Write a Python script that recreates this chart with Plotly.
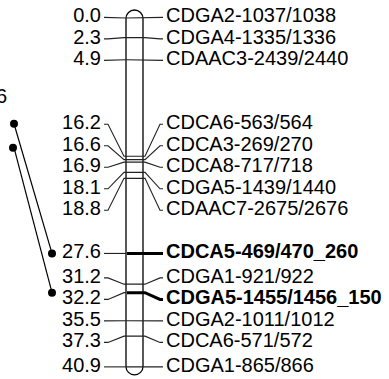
import plotly.graph_objects as go

# ---- data ----
positions = [0.0, 2.3, 4.9, 16.2, 16.6, 16.9, 18.1, 18.8, 27.6, 31.2, 32.2, 35.5, 37.3, 40.9]
markers = ["CDGA2-1037/1038", "CDGA4-1335/1336", "CDAAC3-2439/2440",
           "CDCA6-563/564", "CDCA3-269/270", "CDCA8-717/718", "CDGA5-1439/1440",
           "CDAAC7-2675/2676", "CDCA5-469/470_260", "CDGA1-921/922",
           "CDGA5-1455/1456_150", "CDGA2-1011/1012", "CDCA6-571/572", "CDGA1-865/866"]
is_bold = [False, False, False, False, False, False, False, False, True, False, True, False, False, False]
# links from a neighbouring (cropped) map to the highlighted markers
link_from = [12.4, 15.2]
link_to = [27.6, 32.2]
cropped_label = "6"
cropped_label_pos = 9.4

# ---- layout helpers ----
W, H = 389, 379
PX0, PXPERCM = 18.0, 8.53
y_top = (0 - PX0) / PXPERCM
y_bot = (H - PX0) / PXPERCM
S = 2.52  # min label spacing (cM)

# spread labels: merge overlapping groups, center on mid of range
groups = [[i] for i in range(len(positions))]
def layout(g):
    lo, hi = positions[g[0]], positions[g[-1]]
    c = (lo + hi) / 2
    start = c - (len(g) - 1) * S / 2
    return [start + k * S for k in range(len(g))]
changed = True
while changed:
    changed = False
    for i in range(len(groups) - 1):
        a, b = layout(groups[i]), layout(groups[i + 1])
        if b[0] < a[-1] + S - 1e-9:
            groups[i] = groups[i] + groups[i + 1]
            del groups[i + 1]
            changed = True
            break
label_y = []
for g in groups:
    label_y += layout(g)

XL, XR = 126, 143
XM = (XL + XR) / 2
fig = go.Figure()

# chromosome body
r = (XR - XL) / 2
ry = r / PXPERCM
k = 0.5523
top = positions[0] - 0.94
bot = positions[-1] + 0.94
path = (f"M {XL} {top+ry} C {XL} {top+ry-k*ry} {XM-k*r} {top} {XM} {top} "
        f"C {XM+k*r} {top} {XR} {top+ry-k*ry} {XR} {top+ry} "
        f"L {XR} {bot-ry} C {XR} {bot-ry+k*ry} {XM+k*r} {bot} {XM} {bot} "
        f"C {XM-k*r} {bot} {XL} {bot-ry+k*ry} {XL} {bot-ry} Z")
fig.add_shape(type="path", path=path, xref="x", yref="y",
              line=dict(color="black", width=1.3), fillcolor="white", layer="below")

thin_x, thin_y, thick_x, thick_y = [], [], [], []
for p, ly, b in zip(positions, label_y, is_bold):
    thin_x += [104, 108, 124, XL, None]
    thin_y += [ly, ly, p, p, None]
    if b:
        thick_x += [XL + 1, XR, 145, 160, 163, None]
        thick_y += [p, p, p, ly, ly, None]
    else:
        thin_x += [XL, XR, 145, 160, 163, None]
        thin_y += [p, p, p, ly, ly, None]

fig.add_trace(go.Scatter(x=thin_x, y=thin_y, mode="lines",
                         line=dict(color="#222", width=1.1), hoverinfo="skip"))
fig.add_trace(go.Scatter(x=thick_x, y=thick_y, mode="lines",
                         line=dict(color="black", width=3), hoverinfo="skip"))

lx, lyy = [], []
for a, b in zip(link_from, link_to):
    lx += [14, 52, None]
    lyy += [a, b, None]
fig.add_trace(go.Scatter(x=lx, y=lyy, mode="lines", line=dict(color="black", width=1.2),
                         hoverinfo="skip"))
fig.add_trace(go.Scatter(x=[14, 13] + [52, 52], y=link_from + link_to, mode="markers",
                         marker=dict(color="black", size=8), hoverinfo="skip"))

font = dict(family="Liberation Sans, Arial, sans-serif", size=20, color="black")
fig.add_trace(go.Scatter(x=[101] * len(positions), y=label_y, mode="text",
                         text=[f"{p:.1f}" for p in positions], textposition="middle left",
                         textfont=font, hoverinfo="skip"))
fig.add_trace(go.Scatter(x=[166] * len(positions), y=label_y, mode="text",
                         text=[f"<b>{m}</b>" if b else m for m, b in zip(markers, is_bold)],
                         textposition="middle right", textfont=font, hoverinfo="skip"))
fig.add_trace(go.Scatter(x=[7], y=[cropped_label_pos], mode="text", text=[cropped_label],
                         textposition="middle left", textfont=font, hoverinfo="skip"))

fig.update_layout(width=W, height=H, margin=dict(l=0, r=0, t=0, b=0),
                  plot_bgcolor="white", paper_bgcolor="white", showlegend=False,
                  xaxis=dict(range=[0, W], visible=False, fixedrange=True),
                  yaxis=dict(range=[y_bot, y_top], visible=False, fixedrange=True))
fig.write_html("out.html", config={"displayModeBar": False},
               post_script="document.body.style.margin='0';document.body.style.overflow='hidden';")
